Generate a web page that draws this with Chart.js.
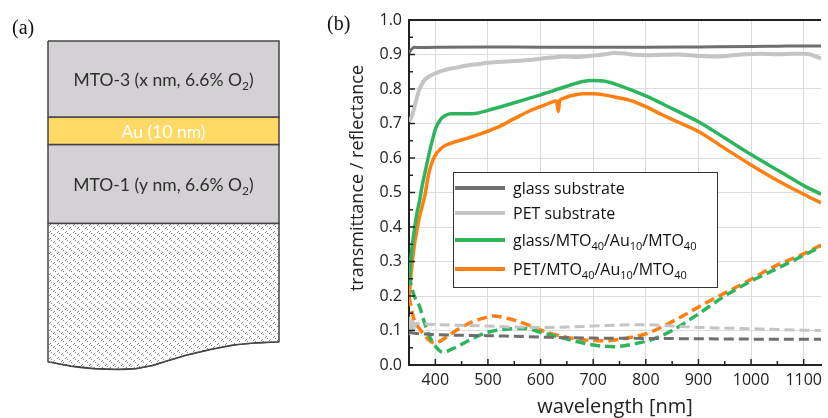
<!DOCTYPE html>
<html>
<head>
<meta charset="utf-8">
<script src="https://cdn.jsdelivr.net/npm/chart.js@4.4.0/dist/chart.umd.min.js"></script>
<style>
  html, body { margin: 0; padding: 0; background: #fff; overflow: hidden; }
  #wrap { position: relative; width: 828px; height: 418px; overflow: hidden; }
  .tag { position: absolute; font-family: "Liberation Serif", "DejaVu Serif", serif; font-size: 20px; color: #111; line-height: 1; }
  #stackChart { position: absolute; left: 0; top: 0; }
  #spectraChart { position: absolute; left: 300px; top: 0; }
</style>
</head>
<body>
<div id="wrap">
  <canvas id="stackChart" width="300" height="418"></canvas>
  <canvas id="spectraChart" width="528" height="440"></canvas>
  <div class="tag" style="left:12px; top:17px;">(a)</div>
  <div class="tag" style="left:327px; top:13px;">(b)</div>
</div>
<script>
// ---- (a) layer stack (schematic heights, top to bottom) ----
const layerNames = ['MTO-3 (x nm, 6.6% O_{2})', 'Au (10 nm)', 'MTO-1 (y nm, 6.6% O_{2})'];
const layerThickness = [76, 27.5, 79];
const layerColors = ['#d3d1d3', '#ffd966', '#d3d1d3'];
const layerTextColors = ['#2e2e2e', '#ffffff', '#2e2e2e'];
// wavy lower edge of the substrate: fraction of width, depth below stack top
const substrateEdgeX = [0, 0.1, 0.2, 0.3, 0.38, 0.45, 0.52, 0.6, 0.7, 0.8, 0.9, 1];
const substrateEdgeDepth = [320.7, 325, 327.5, 328.3, 327.5, 324.5, 319.5, 314, 308.5, 304, 301.8, 300.7];

// ---- (b) spectra ----
const glassT_nm = [350, 355, 360, 370, 400, 500, 600, 700, 800, 900, 1000, 1050, 1100, 1133];
const glassT = [0.905, 0.915, 0.921, 0.92, 0.921, 0.922, 0.921, 0.921, 0.921, 0.922, 0.923, 0.924, 0.925, 0.925];

const petT_nm = [350, 355, 360, 365, 370, 375, 380, 390, 400, 420, 440, 460, 480, 500, 520, 550, 580, 600, 620, 645, 670, 700, 720, 740, 760, 780, 800, 830, 860, 900, 930, 960, 990, 1020, 1050, 1080, 1100, 1115, 1125, 1133];
const petT = [0.705, 0.72, 0.745, 0.775, 0.8, 0.815, 0.827, 0.838, 0.845, 0.856, 0.862, 0.868, 0.872, 0.876, 0.878, 0.881, 0.884, 0.888, 0.891, 0.894, 0.893, 0.897, 0.9, 0.904, 0.903, 0.899, 0.898, 0.899, 0.9, 0.896, 0.894, 0.897, 0.901, 0.902, 0.901, 0.902, 0.902, 0.899, 0.893, 0.889];

const glassStackT_nm = [350, 355, 360, 365, 370, 375, 380, 385, 390, 395, 400, 410, 420, 430, 450, 475, 500, 550, 600, 650, 680, 700, 720, 750, 800, 850, 900, 950, 1000, 1050, 1100, 1133];
const glassStackT = [0.24, 0.33, 0.39, 0.44, 0.475, 0.52, 0.555, 0.59, 0.625, 0.655, 0.683, 0.712, 0.724, 0.728, 0.728, 0.729, 0.738, 0.76, 0.783, 0.808, 0.822, 0.825, 0.823, 0.81, 0.78, 0.743, 0.705, 0.658, 0.61, 0.565, 0.52, 0.495];

const petStackT_nm = [350, 355, 360, 365, 370, 375, 380, 385, 390, 395, 400, 410, 420, 440, 460, 490, 520, 550, 580, 610, 630, 634, 636, 640, 660, 680, 700, 720, 740, 770, 800, 830, 860, 900, 950, 1000, 1050, 1100, 1133];
const petStackT = [0.19, 0.28, 0.345, 0.39, 0.43, 0.46, 0.49, 0.535, 0.57, 0.592, 0.608, 0.627, 0.637, 0.648, 0.657, 0.672, 0.69, 0.714, 0.737, 0.755, 0.765, 0.735, 0.765, 0.771, 0.781, 0.786, 0.786, 0.783, 0.777, 0.767, 0.749, 0.726, 0.705, 0.677, 0.628, 0.58, 0.535, 0.495, 0.47];

const glassR_nm = [350, 360, 380, 400, 450, 500, 550, 600, 650, 700, 800, 900, 1000, 1100, 1133];
const glassR = [0.095, 0.092, 0.09, 0.088, 0.086, 0.085, 0.083, 0.081, 0.079, 0.078, 0.077, 0.076, 0.075, 0.075, 0.075];

const petR_nm = [350, 352, 354, 356, 358, 360, 363, 370, 400, 450, 500, 550, 600, 650, 700, 750, 800, 850, 900, 950, 1000, 1050, 1100, 1133];
const petR = [0.14, 0.09, 0.13, 0.095, 0.125, 0.105, 0.12, 0.12, 0.117, 0.115, 0.113, 0.11, 0.109, 0.11, 0.113, 0.116, 0.117, 0.113, 0.109, 0.107, 0.105, 0.103, 0.101, 0.1];

const glassStackR_nm = [350, 355, 360, 370, 380, 390, 400, 414, 430, 450, 475, 500, 530, 570, 600, 650, 700, 740, 780, 810, 850, 900, 950, 1000, 1050, 1100, 1133];
const glassStackR = [0.26, 0.225, 0.2, 0.17, 0.12, 0.08, 0.055, 0.037, 0.045, 0.06, 0.08, 0.095, 0.103, 0.106, 0.095, 0.075, 0.058, 0.053, 0.062, 0.073, 0.1, 0.148, 0.2, 0.243, 0.28, 0.318, 0.343];

const petStackR_nm = [350, 355, 360, 370, 380, 390, 400, 410, 425, 445, 470, 490, 510, 530, 550, 580, 610, 650, 690, 720, 760, 800, 830, 870, 920, 980, 1050, 1100, 1133];
const petStackR = [0.2, 0.16, 0.13, 0.105, 0.085, 0.07, 0.063, 0.07, 0.085, 0.105, 0.125, 0.135, 0.142, 0.138, 0.13, 0.114, 0.096, 0.08, 0.072, 0.07, 0.077, 0.09, 0.11, 0.142, 0.185, 0.232, 0.29, 0.322, 0.348];

const legendLabels = ['glass substrate', 'PET substrate', 'glass/MTO_{40}/Au_{10}/MTO_{40}', 'PET/MTO_{40}/Au_{10}/MTO_{40}'];
const seriesColors = ['#6f6f6f', '#c4c4c4', '#2db55d', '#ff7f11'];

const UI_FONT = '"Open Sans", "Noto Sans", sans-serif';
const LAYER_FONT = 'Lato, "Open Sans", sans-serif';

function pairs(xs, ys) { return xs.map((x, i) => ({ x: x, y: ys[i] })); }

// text with _{...} subscripts, drawn on a baseline
function drawRich(ctx, text, x, y, size, family, color, align) {
  const runs = text.split(/(_\{[^}]*\})/).filter(s => s).map(p =>
    p.startsWith('_{') ? { t: p.slice(2, -1), sub: true } : { t: p, sub: false });
  const subSize = Math.round(size * 0.68);
  let total = 0;
  runs.forEach(r => {
    ctx.font = (r.sub ? subSize : size) + 'px ' + family;
    r.w = ctx.measureText(r.t).width;
    total += r.w;
  });
  let cx = align === 'center' ? x - total / 2 : x;
  ctx.fillStyle = color;
  ctx.textAlign = 'left';
  ctx.textBaseline = 'alphabetic';
  runs.forEach(r => {
    ctx.font = (r.sub ? subSize : size) + 'px ' + family;
    ctx.fillText(r.t, cx, r.sub ? y + size * 0.25 : y);
    cx += r.w;
  });
}

// ---------- panel (a) ----------
function makeSubstratePattern() {
  const c = document.createElement('canvas');
  c.width = 8; c.height = 7;
  const g = c.getContext('2d');
  g.fillStyle = '#ffffff';
  g.fillRect(0, 0, 8, 7);
  g.fillStyle = '#8a8a8a';
  g.fillRect(1, 1, 1, 1);
  g.fillRect(2, 0, 1, 1);
  g.fillRect(3, 2, 1, 1);
  g.fillRect(5, 4, 1, 1);
  g.fillRect(6, 3, 1, 1);
  g.fillRect(7, 5, 1, 1);
  return g.createPattern(c, 'repeat');
}

const stackDatasets = [];
let depth = 0;
layerThickness.forEach((t, i) => {
  const top = depth, bottom = depth + t;
  stackDatasets.push({
    label: layerNames[i],
    data: [{ x: 0, y: top }, { x: 1, y: top }, { x: 1, y: bottom }, { x: 0, y: bottom }, { x: 0, y: top }],
    backgroundColor: layerColors[i],
    borderColor: '#454545',
    borderWidth: 1.5,
    fill: 'shape',
    pointRadius: 0,
    tension: 0,
    clip: false
  });
  depth = bottom;
});
const substrateTop = depth;
const substrateEdge = pairs(substrateEdgeX, substrateEdgeDepth);
// patterned body of the substrate
stackDatasets.unshift({
  label: 'substrate',
  data: [{ x: 0, y: substrateTop }].concat(substrateEdge).concat([{ x: 1, y: substrateTop }, { x: 0, y: substrateTop }]),
  backgroundColor: makeSubstratePattern(),
  borderColor: '#454545',
  borderWidth: 1.5,
  fill: 'shape',
  pointRadius: 0,
  tension: 0,
  clip: false
});
// smooth lower outline of the substrate
stackDatasets.splice(1, 0, {
  label: 'substrate edge',
  data: substrateEdge,
  borderColor: '#454545',
  borderWidth: 1.8,
  fill: false,
  pointRadius: 0,
  cubicInterpolationMode: 'monotone',
  clip: false
});

const layerLabels = {
  id: 'layerLabels',
  afterDatasetsDraw(chart) {
    const { ctx, scales: { x, y } } = chart;
    ctx.save();
    let d = 0;
    layerThickness.forEach((t, i) => {
      const cy = y.getPixelForValue(d + t / 2);
      drawRich(ctx, layerNames[i], x.getPixelForValue(0.5), cy + 7, 17.5, LAYER_FONT, layerTextColors[i], 'center');
      d += t;
    });
    ctx.restore();
  }
};

new Chart(document.getElementById('stackChart'), {
  type: 'line',
  data: { datasets: stackDatasets },
  options: {
    responsive: false,
    animation: false,
    layout: { padding: { left: 48, right: 21, top: 41, bottom: 0 } },
    scales: {
      x: { type: 'linear', min: 0, max: 1, display: false },
      y: { type: 'linear', min: 0, max: 377, reverse: true, display: false }
    },
    plugins: { legend: { display: false }, tooltip: { enabled: false } }
  },
  plugins: [layerLabels]
});

// ---------- panel (b) ----------
const dashed = [10, 5];
const spectraDatasets = [
  { label: 'glass substrate T', data: pairs(glassT_nm, glassT), borderColor: seriesColors[0], borderWidth: 3 },
  { label: 'PET substrate T', data: pairs(petT_nm, petT), borderColor: seriesColors[1], borderWidth: 4 },
  { label: 'glass substrate R', data: pairs(glassR_nm, glassR), borderColor: seriesColors[0], borderWidth: 3, borderDash: dashed },
  { label: 'PET substrate R', data: pairs(petR_nm, petR), borderColor: seriesColors[1], borderWidth: 3, borderDash: dashed },
  { label: 'glass stack T', data: pairs(glassStackT_nm, glassStackT), borderColor: seriesColors[2], borderWidth: 3.5 },
  { label: 'glass stack R', data: pairs(glassStackR_nm, glassStackR), borderColor: seriesColors[2], borderWidth: 3.5, borderDash: dashed },
  { label: 'PET stack T', data: pairs(petStackT_nm, petStackT), borderColor: seriesColors[3], borderWidth: 3.5 },
  { label: 'PET stack R', data: pairs(petStackR_nm, petStackR), borderColor: seriesColors[3], borderWidth: 3.5, borderDash: dashed }
].map(ds => Object.assign({ pointRadius: 0, fill: false, cubicInterpolationMode: 'monotone' }, ds));

const frameAndLegend = {
  id: 'frameAndLegend',
  afterDraw(chart) {
    const { ctx, chartArea: a, scales: { x, y } } = chart;
    const seg = (x1, y1, x2, y2) => { ctx.beginPath(); ctx.moveTo(x1, y1); ctx.lineTo(x2, y2); ctx.stroke(); };
    ctx.save();
    // inward major/minor ticks
    ctx.strokeStyle = '#222';
    ctx.lineWidth = 1.5;
    for (let v = Math.ceil(x.min / 50) * 50; v <= x.max; v += 50) {
      const px = x.getPixelForValue(v);
      seg(px, a.bottom, px, a.bottom - (v % 100 === 0 ? 6 : 4));
    }
    for (let k = 0; k <= 20; k++) {
      const py = y.getPixelForValue(k * 0.05);
      seg(a.left, py, a.left + (k % 2 === 0 ? 6 : 4), py);
    }
    // top frame line
    ctx.lineWidth = 2;
    seg(a.left, a.top, a.right, a.top);
    // y axis title
    ctx.save();
    ctx.translate(a.left - 51.5, a.top + (a.bottom - a.top) * 0.458);
    ctx.rotate(-Math.PI / 2);
    ctx.font = '18px ' + UI_FONT;
    ctx.fillStyle = '#222';
    ctx.textAlign = 'center';
    ctx.textBaseline = 'middle';
    ctx.fillText('transmittance / reflectance', 0, 0);
    ctx.restore();
    // legend box
    const bx = a.left + 44, by = a.top + 152, bw = 264, bh = 115;
    ctx.fillStyle = '#fff';
    ctx.fillRect(bx, by, bw, bh);
    ctx.strokeStyle = '#333';
    ctx.lineWidth = 1;
    ctx.strokeRect(bx + 0.5, by + 0.5, bw, bh);
    const rowY = [16, 41, 68, 97];
    legendLabels.forEach((lab, i) => {
      const ly = by + rowY[i];
      ctx.strokeStyle = seriesColors[i];
      ctx.lineWidth = 4;
      ctx.setLineDash([]);
      seg(bx + 2, ly, bx + 52, ly);
      drawRich(ctx, lab, bx + 60, ly + 6, 16, UI_FONT, '#111', 'left');
    });
    ctx.restore();
  }
};

new Chart(document.getElementById('spectraChart'), {
  type: 'line',
  data: { datasets: spectraDatasets },
  options: {
    responsive: false,
    animation: false,
    layout: { padding: { left: 0, right: 0, top: 20, bottom: 0 } },
    scales: {
      x: {
        type: 'linear',
        min: 350,
        max: 1133,
        afterFit: s => { s.height = 75; },
        border: { display: true, color: '#222', width: 2 },
        grid: { color: '#dcdcdc', lineWidth: 1, drawTicks: false },
        ticks: { stepSize: 100, includeBounds: false, padding: 6, color: '#222', font: { family: UI_FONT, size: 16 }, callback: v => String(v) },
        title: { display: true, text: 'wavelength [nm]', color: '#222', font: { family: UI_FONT, size: 20 }, padding: { top: 0, bottom: 21 } }
      },
      y: {
        type: 'linear',
        min: 0,
        max: 1,
        afterFit: s => { s.width = 109; },
        border: { display: true, color: '#222', width: 2 },
        grid: { color: '#dcdcdc', lineWidth: 1, drawTicks: false },
        ticks: { stepSize: 0.1, padding: 7, color: '#222', font: { family: UI_FONT, size: 16 }, callback: v => v.toFixed(1) }
      }
    },
    plugins: { legend: { display: false }, tooltip: { enabled: false } }
  },
  plugins: [frameAndLegend]
});
</script>
</body>
</html>
